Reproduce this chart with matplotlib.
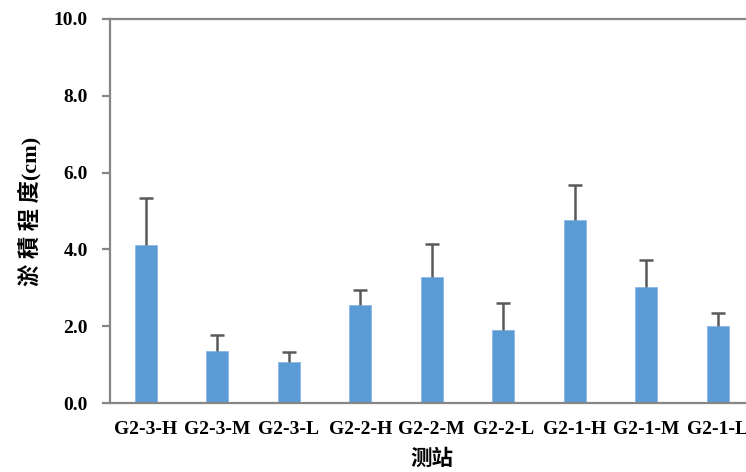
import matplotlib
matplotlib.use("Agg")
import matplotlib.pyplot as plt
import numpy as np

stations = ["G2-3-H", "G2-3-M", "G2-3-L", "G2-2-H", "G2-2-M", "G2-2-L",
            "G2-1-H", "G2-1-M", "G2-1-L"]
values = [4.11, 1.35, 1.08, 2.54, 3.27, 1.90, 4.77, 3.01, 2.00]
errors = [1.22, 0.41, 0.26, 0.41, 0.86, 0.71, 0.91, 0.71, 0.34]
yticks = [0.0, 2.0, 4.0, 6.0, 8.0, 10.0]

serif_bold = dict(family=["Liberation Serif", "Noto Sans CJK SC"], weight="bold")

fig = plt.figure(figsize=(7.46, 4.72), dpi=100)
ax = fig.add_axes([110/746, 69/472, 643.5/746, 384/472])

x = np.arange(len(stations))
vals = np.array(values)
errs = np.array(errors)
ax.bar(x, vals, width=0.31, color="#5B9BD5", edgecolor="#8AB8E6", linewidth=0.6, zorder=2)
ax.vlines(x, vals, vals + errs, color="#595959", linewidth=1.8, zorder=3)
ax.plot(x, vals + errs, linestyle="none", marker="_", markersize=10,
        markeredgewidth=1.8, color="#595959", zorder=3)

ax.set_xlim(-0.5, len(stations) - 0.5)
ax.set_ylim(0, 10)
ax.set_yticks(yticks)
ax.set_yticklabels([f"{v:.1f}" for v in yticks], fontsize=14, **serif_bold)
ax.set_xticks(x)
ax.set_xticklabels(stations, fontsize=14, **serif_bold)

for s in ["top", "left", "bottom", "right"]:
    ax.spines[s].set_color("#868686")
    ax.spines[s].set_linewidth(1.6)
ax.tick_params(axis="y", direction="out", length=6, width=1.6, color="#868686", pad=10)
ax.tick_params(axis="x", length=0, pad=13)

ax.set_ylabel("淤 積 程 度(cm)", fontsize=16, labelpad=9, **serif_bold)
ax.set_xlabel("测站", fontsize=15.5, labelpad=8, **serif_bold)

fig.savefig("out.png", dpi=100)
